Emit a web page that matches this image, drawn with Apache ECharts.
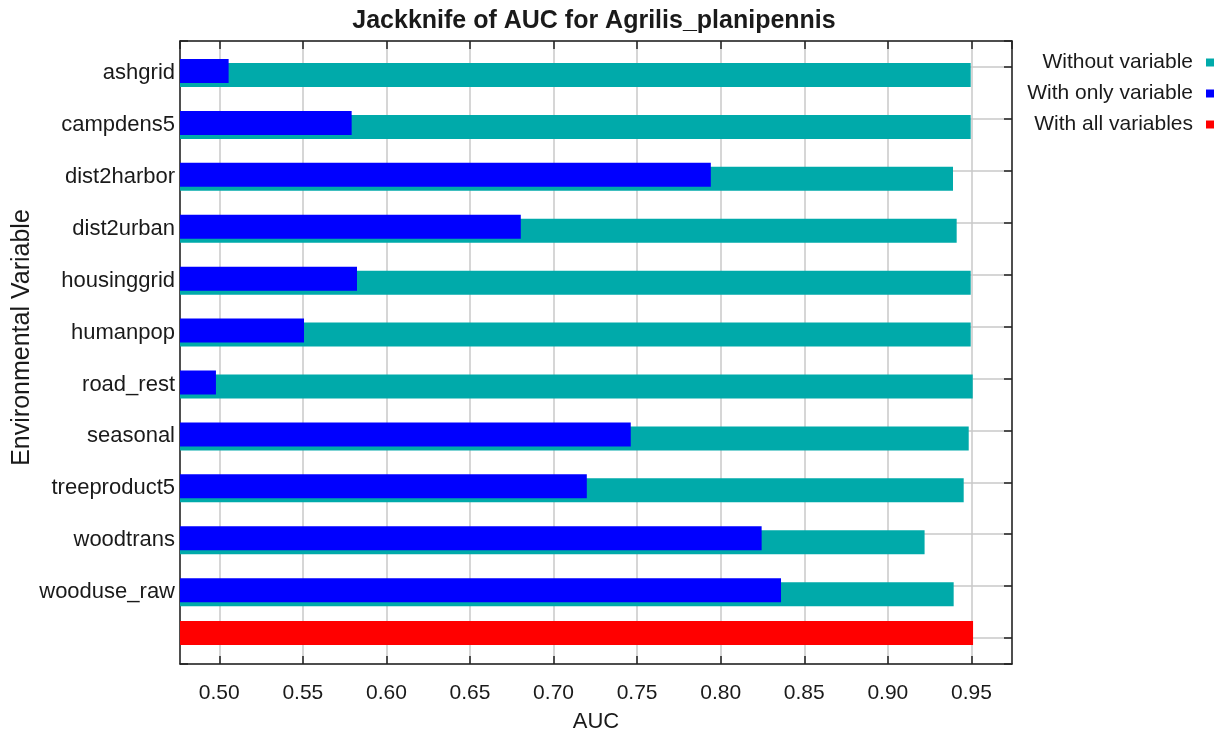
<!DOCTYPE html>
<html>
<head>
<meta charset="utf-8">
<title>Jackknife of AUC for Agrilis_planipennis</title>
<script src="https://cdn.jsdelivr.net/npm/echarts@6/dist/echarts.min.js"></script>
<style>
  html, body { margin: 0; padding: 0; background: #ffffff; }
  #chart { width: 1223px; height: 734px; }
</style>
</head>
<body>
<div id="chart"></div>
<script>
// Environmental variables, top to bottom; the last row holds the full model
const categories = ['ashgrid', 'campdens5', 'dist2harbor', 'dist2urban', 'housinggrid',
  'humanpop', 'road_rest', 'seasonal', 'treeproduct5', 'woodtrans', 'wooduse_raw'];

// AUC of the model built without each variable
const withoutVariable = [0.9496, 0.9496, 0.9390, 0.9412, 0.9496, 0.9496, 0.9508, 0.9484, 0.9454, 0.9220, 0.9394];
// AUC of the model built with only that variable
const withOnlyVariable = [0.5056, 0.5792, 0.7941, 0.6804, 0.5824, 0.5507, 0.4980, 0.7462, 0.7199, 0.8245, 0.8361];
// AUC of the model built with all variables
const withAllVariables = 0.9510;

const xMin = 0.4765;
const xMax = 0.9743;
const rowCount = categories.length + 1;

const FONT = '"Liberation Sans", Arial, Helvetica, sans-serif';
const TEXT = '#1a1a1a';
const COLORS = { without: '#00aaaa', only: '#0000ff', all: '#ff0000' };

// Horizontal bar drawn from the left edge of the plot to its value,
// shifted inside its row by a fixed pixel offset
function rowBar(offsetTop, thickness) {
  return function (params, api) {
    const value = api.value(0);
    const row = api.value(1);
    const start = api.coord([xMin, row]);
    const end = api.coord([value, row]);
    return {
      type: 'rect',
      shape: { x: start[0], y: start[1] + offsetTop, width: end[0] - start[0], height: thickness },
      style: { fill: api.visual('color') }
    };
  };
}

const withoutData = withoutVariable.map((v, i) => [v, i]);
const onlyData = withOnlyVariable.map((v, i) => [v, i]);
const allData = [[withAllVariables, categories.length]];

const rowLabel = v => (Number.isInteger(v) && v >= 0 && v < categories.length) ? categories[v] : '';

const borderLine = { show: true, onZero: false, lineStyle: { color: '#222', width: 1.5 } };
const insideTicks = { show: true, inside: true, length: 8, lineStyle: { color: '#222', width: 1.5 } };
const gridLines = { show: true, lineStyle: { color: '#c8c8c8', width: 1.5 } };

const chart = echarts.init(document.getElementById('chart'), null, { renderer: 'canvas' });
chart.setOption({
  animation: false,
  backgroundColor: '#ffffff',
  textStyle: { fontFamily: FONT },
  title: {
    text: 'Jackknife of AUC for Agrilis_planipennis',
    left: 589,
    top: 4,
    textAlign: 'center',
    textStyle: { fontFamily: FONT, fontSize: 25, fontWeight: 'bold', color: TEXT }
  },
  legend: {
    orient: 'vertical',
    right: 4,
    top: 47,
    align: 'right',
    itemWidth: 8,
    itemHeight: 8,
    itemGap: 10,
    selectedMode: false,
    textStyle: { fontFamily: FONT, fontSize: 21, color: TEXT, lineHeight: 20, padding: [0, 8, 0, 0] },
    data: [
      { name: 'Without variable', icon: 'rect', itemStyle: { color: COLORS.without } },
      { name: 'With only variable', icon: 'rect', itemStyle: { color: COLORS.only } },
      { name: 'With all variables', icon: 'rect', itemStyle: { color: COLORS.all } }
    ]
  },
  grid: { left: 180, right: 211, top: 41, bottom: 70, containLabel: false, outerBoundsMode: 'none' },
  xAxis: [
    {
      type: 'value',
      position: 'bottom',
      min: xMin,
      max: xMax,
      splitNumber: 10,
      name: 'AUC',
      nameLocation: 'middle',
      nameGap: 47,
      nameTextStyle: { fontFamily: FONT, fontSize: 22, color: TEXT },
      axisLine: borderLine,
      axisTick: insideTicks,
      splitLine: gridLines,
      axisLabel: {
        margin: 19,
        fontFamily: FONT,
        fontSize: 21,
        color: TEXT,
        showMinLabel: false,
        showMaxLabel: false,
        formatter: v => v.toFixed(2)
      }
    },
    {
      type: 'value',
      position: 'top',
      min: xMin,
      max: xMax,
      splitNumber: 10,
      axisLine: borderLine,
      axisTick: insideTicks,
      splitLine: { show: false },
      axisLabel: { show: false }
    }
  ],
  yAxis: [
    {
      type: 'value',
      position: 'left',
      inverse: true,
      min: -0.5,
      max: rowCount - 0.5,
      splitNumber: rowCount,
      name: 'Environmental Variable',
      nameLocation: 'middle',
      nameGap: 145,
      nameMoveOverlap: false,
      nameTextStyle: { fontFamily: FONT, fontSize: 25, color: TEXT, padding: [0, 0, 0, 30] },
      axisLine: borderLine,
      axisTick: insideTicks,
      splitLine: gridLines,
      axisLabel: {
        margin: 5,
        fontFamily: FONT,
        fontSize: 22,
        color: TEXT,
        verticalAlign: 'top',
        lineHeight: 12,
        formatter: rowLabel
      }
    },
    {
      type: 'value',
      position: 'right',
      inverse: true,
      min: -0.5,
      max: rowCount - 0.5,
      splitNumber: rowCount,
      axisLine: borderLine,
      axisTick: insideTicks,
      splitLine: { show: false },
      axisLabel: { show: false }
    }
  ],
  series: [
    {
      name: 'Without variable',
      type: 'custom',
      xAxisIndex: 0,
      yAxisIndex: 0,
      itemStyle: { color: COLORS.without },
      renderItem: rowBar(-4, 24),
      data: withoutData,
      z: 2
    },
    {
      name: 'With only variable',
      type: 'custom',
      xAxisIndex: 0,
      yAxisIndex: 0,
      itemStyle: { color: COLORS.only },
      renderItem: rowBar(-8, 24),
      data: onlyData,
      z: 3
    },
    {
      name: 'With all variables',
      type: 'custom',
      xAxisIndex: 0,
      yAxisIndex: 0,
      itemStyle: { color: COLORS.all },
      renderItem: rowBar(-17, 24),
      data: allData,
      z: 3
    }
  ]
});
</script>
</body>
</html>
